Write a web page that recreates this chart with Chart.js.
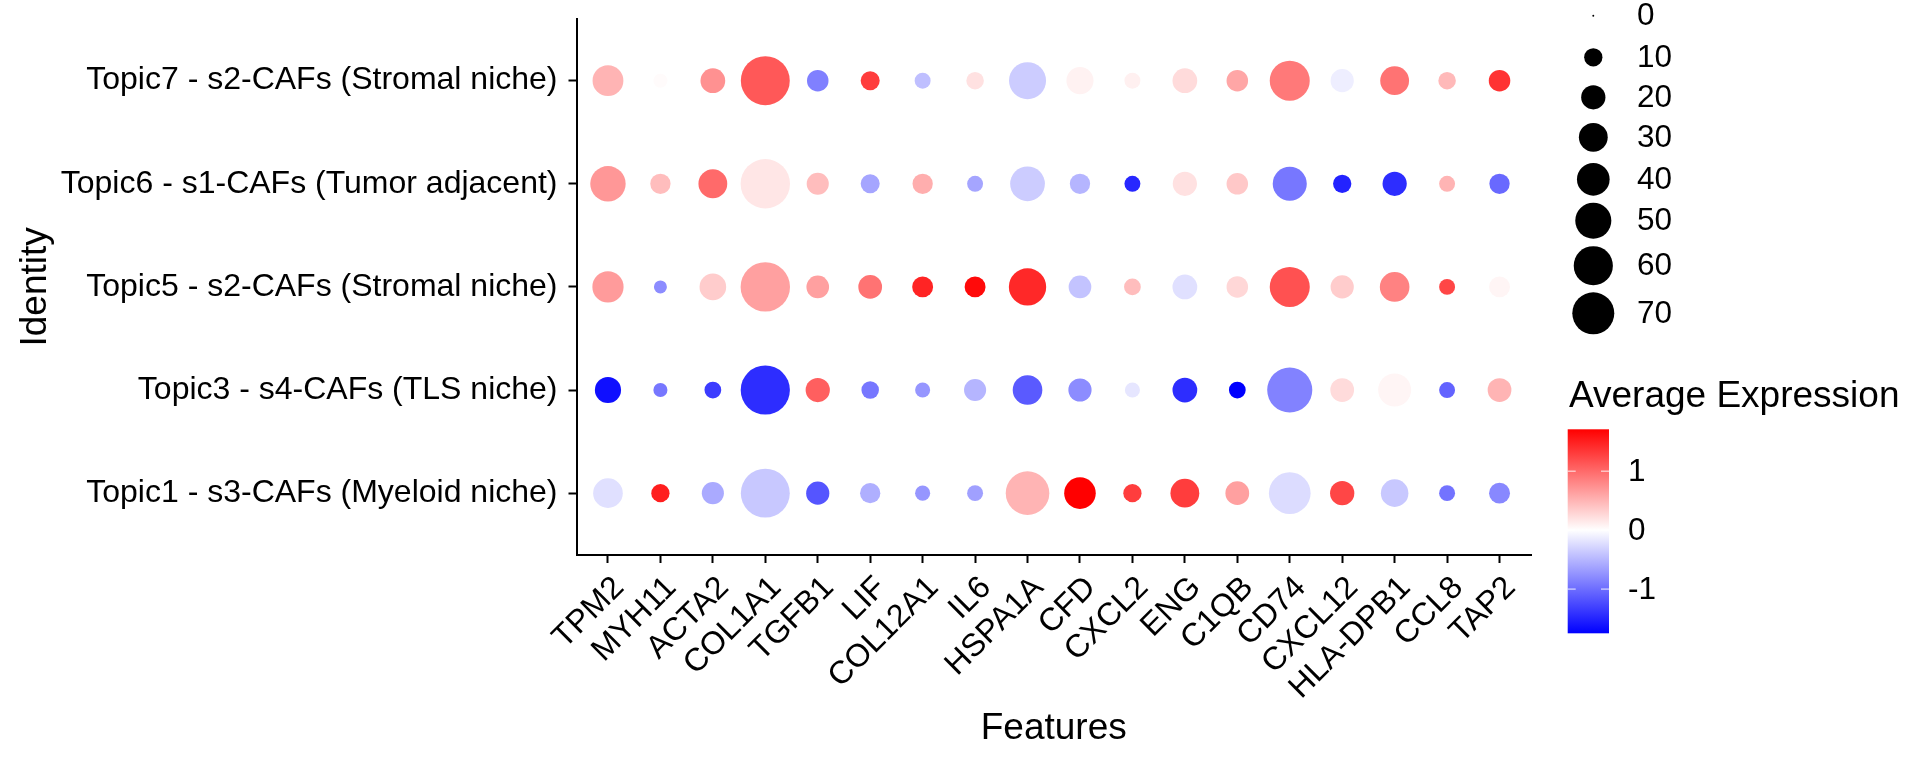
<!DOCTYPE html>
<html>
<head>
<meta charset="utf-8">
<script src="https://cdn.jsdelivr.net/npm/chart.js@4.4.1/dist/chart.umd.min.js"></script>
<style>
  html, body { margin: 0; padding: 0; background: #fff; }
  canvas { display: block; }
</style>
</head>
<body>
<canvas id="c" width="1920" height="768"></canvas>
<script>
// ---- Data ----
const features = ["TPM2","MYH11","ACTA2","COL1A1","TGFB1","LIF","COL12A1","IL6","HSPA1A","CFD","CXCL2","ENG","C1QB","CD74","CXCL12","HLA-DPB1","CCL8","TAP2"];
// bottom -> top
const identities = [
  "Topic1 - s3-CAFs (Myeloid niche)",
  "Topic3 - s4-CAFs (TLS niche)",
  "Topic5 - s2-CAFs (Stromal niche)",
  "Topic6 - s1-CAFs (Tumor adjacent)",
  "Topic7 - s2-CAFs (Stromal niche)"
];
// Percent expressed
const pctTopic1 = [32, 10, 16, 98, 18, 13, 6, 7, 76, 37, 10, 30, 19, 69, 20, 27, 7, 14];
const pctTopic3 = [24, 5, 8, 99, 20, 9, 6, 16, 32, 18, 6, 21, 8, 82, 19, 41, 7, 19];
const pctTopic5 = [36, 4, 25, 100, 17, 19, 14, 14, 54, 17, 8, 21, 15, 63, 18, 32, 7, 14];
const pctTopic6 = [48, 13, 30, 100, 16, 11, 13, 7, 46, 13, 7, 20, 15, 44, 10, 20, 7, 13];
const pctTopic7 = [35, 5, 21, 98, 15, 11, 7, 9, 53, 26, 7, 21, 15, 63, 18, 30, 9, 15];
// Average expression (scaled)
const expTopic1 = [-0.21, 1.51, -0.58, -0.38, -1.17, -0.55, -0.72, -0.65, 0.50, 1.71, 1.30, 1.30, 0.64, -0.24, 1.24, -0.38, -0.96, -0.82];
const expTopic3 = [-1.65, -0.93, -1.34, -1.44, 1.07, -0.93, -0.72, -0.51, -1.13, -0.79, -0.17, -1.44, -1.75, -0.86, 0.24, 0.07, -1.07, 0.50];
const expTopic5 = [0.67, -0.79, 0.34, 0.64, 0.64, 0.94, 1.47, 1.64, 1.44, -0.41, 0.44, -0.21, 0.27, 1.17, 0.34, 0.84, 1.24, 0.07];
const expTopic6 = [0.70, 0.44, 1.00, 0.17, 0.44, -0.62, 0.54, -0.62, -0.35, -0.51, -1.48, 0.20, 0.37, -0.93, -1.51, -1.44, 0.50, -1.03];
const expTopic7 = [0.50, 0.03, 0.74, 1.12, -0.87, 1.30, -0.44, 0.20, -0.35, 0.09, 0.10, 0.24, 0.60, 0.90, -0.12, 0.94, 0.47, 1.37];
// Legend breaks
const sizeBreaks = [0, 10, 20, 30, 40, 50, 60, 70];
const colorBreaks = [1, 0, -1];

// ---- Helpers ----
const pctRows = [pctTopic1, pctTopic3, pctTopic5, pctTopic6, pctTopic7];
const expRows = [expTopic1, expTopic3, expTopic5, expTopic6, expTopic7];
const allExp = expRows.flat();
const cMin = Math.min(...allExp), cMax = Math.max(...allExp);

function colorFor(v) {
  if (v >= 0) {
    const f = Math.min(1, v / cMax);
    const g = Math.round(255 * (1 - f));
    return `rgb(255,${g},${g})`;
  } else {
    const f = Math.min(1, v / cMin);
    const c = Math.round(255 * (1 - f));
    return `rgb(${c},${c},255)`;
  }
}
function radiusFor(p) { return (3.9 + 4.55 * Math.sqrt(p)) / 2; }

const points = [];
identities.forEach((id, yi) => {
  features.forEach((f, xi) => {
    points.push({ x: xi, y: yi, r: radiusFor(pctRows[yi][xi]), v: expRows[yi][xi] });
  });
});

const FONT = '"Liberation Sans", Arial, Helvetica, sans-serif';
const TICK_SIZE = 32;
const TITLE_SIZE = 37;

const legendPlugin = {
  id: 'legends',
  afterDraw(chart) {
    const ctx = chart.ctx;
    ctx.save();
    // Size legend
    const lx = 1593.3, tx = 1637;
    const ly = [15.7, 57.3, 97.3, 137.3, 179.3, 220.7, 265.7, 313.3];
    ctx.font = `31.5px ${FONT}`;
    ctx.textAlign = 'left';
    ctx.textBaseline = 'middle';
    sizeBreaks.forEach((b, i) => {
      ctx.fillStyle = '#000';
      ctx.beginPath();
      ctx.arc(lx, ly[i], radiusFor(b) * (b === 0 ? 0.5 : 1), 0, Math.PI * 2);
      ctx.fill();
      ctx.fillText(String(b), tx, ly[i] + 1);
    });
    // Colour bar
    const bx = 1567.7, bw = 41.3, top = 429.3, bh = 204;
    const yOf = v => top + (cMax - v) / (cMax - cMin) * bh;
    const grad = ctx.createLinearGradient(0, top, 0, top + bh);
    const zeroStop = (cMax - 0) / (cMax - cMin);
    grad.addColorStop(0, 'rgb(255,0,0)');
    grad.addColorStop(zeroStop, 'rgb(255,255,255)');
    grad.addColorStop(1, 'rgb(0,0,255)');
    ctx.fillStyle = grad;
    ctx.fillRect(bx, top, bw, bh);
    ctx.strokeStyle = 'rgba(255,255,255,0.9)';
    ctx.lineWidth = 1;
    ctx.fillStyle = '#000';
    colorBreaks.forEach(b => {
      const y = yOf(b);
      ctx.beginPath();
      ctx.moveTo(bx, y); ctx.lineTo(bx + 8, y);
      ctx.moveTo(bx + bw - 8, y); ctx.lineTo(bx + bw, y);
      ctx.stroke();
      ctx.fillText(String(b), 1628, y + 1);
    });
    // Title
    ctx.font = `${TITLE_SIZE}px ${FONT}`;
    ctx.textBaseline = 'alphabetic';
    ctx.fillText('Average Expression', 1569, 406.5);
    ctx.restore();
  }
};

function shiftXLabels(s) {
  if (s.__wrapped) return;
  const orig = s._computeLabelItems.bind(s);
  s._computeLabelItems = function (ca) {
    const items = orig(ca);
    items.forEach(it => {
      const t = it.options.translation;
      it.options.translation = [t[0] + 11, t[1] + 3];
    });
    return items;
  };
  s.__wrapped = true;
}

new Chart(document.getElementById('c'), {
  type: 'bubble',
  data: {
    datasets: [{
      data: points,
      backgroundColor: c => (c.raw ? colorFor(c.raw.v) : '#000'),
      borderWidth: 0,
      hoverBorderWidth: 0
    }]
  },
  options: {
    responsive: false,
    animation: false,
    devicePixelRatio: 1,
    layout: { autoPadding: false, padding: { top: 18.8, right: 389, left: 0, bottom: 0 } },
    plugins: { legend: { display: false }, tooltip: { enabled: false } },
    scales: {
      x: {
        type: 'linear', min: -0.6, max: 17.6,
        afterBuildTicks: s => { s.ticks = features.map((_, i) => ({ value: i })); },
        afterFit: s => { s.height = 213; s.paddingLeft = 0; s.paddingRight = 0; },
        afterUpdate: shiftXLabels,
        ticks: {
          callback: v => features[v],
          autoSkip: false, minRotation: 45, maxRotation: 45,
          color: '#000', padding: 3,
          font: { family: FONT, size: TICK_SIZE }
        },
        grid: { drawOnChartArea: false, drawTicks: true, tickLength: 8, tickColor: '#000', tickWidth: 2 },
        border: { color: '#000', width: 2 },
        title: { display: true, text: 'Features', color: '#000', font: { family: FONT, size: TITLE_SIZE }, padding: { top: 0, bottom: 17 } }
      },
      y: {
        type: 'linear', min: -0.6, max: 4.6,
        afterBuildTicks: s => { s.ticks = identities.map((_, i) => ({ value: i })); },
        afterFit: s => { s.width = 576.5; s.paddingTop = 0; s.paddingBottom = 0; },
        ticks: {
          callback: v => identities[v],
          autoSkip: false,
          color: '#000', padding: 11,
          font: { family: FONT, size: TICK_SIZE }
        },
        grid: { drawOnChartArea: false, drawTicks: true, tickLength: 8, tickColor: '#000', tickWidth: 2 },
        border: { color: '#000', width: 2 },
        title: { display: true, text: 'Identity', color: '#000', font: { family: FONT, size: TITLE_SIZE }, padding: { top: 14, bottom: 0 } }
      }
    }
  },
  plugins: [legendPlugin]
});
</script>
</body>
</html>
